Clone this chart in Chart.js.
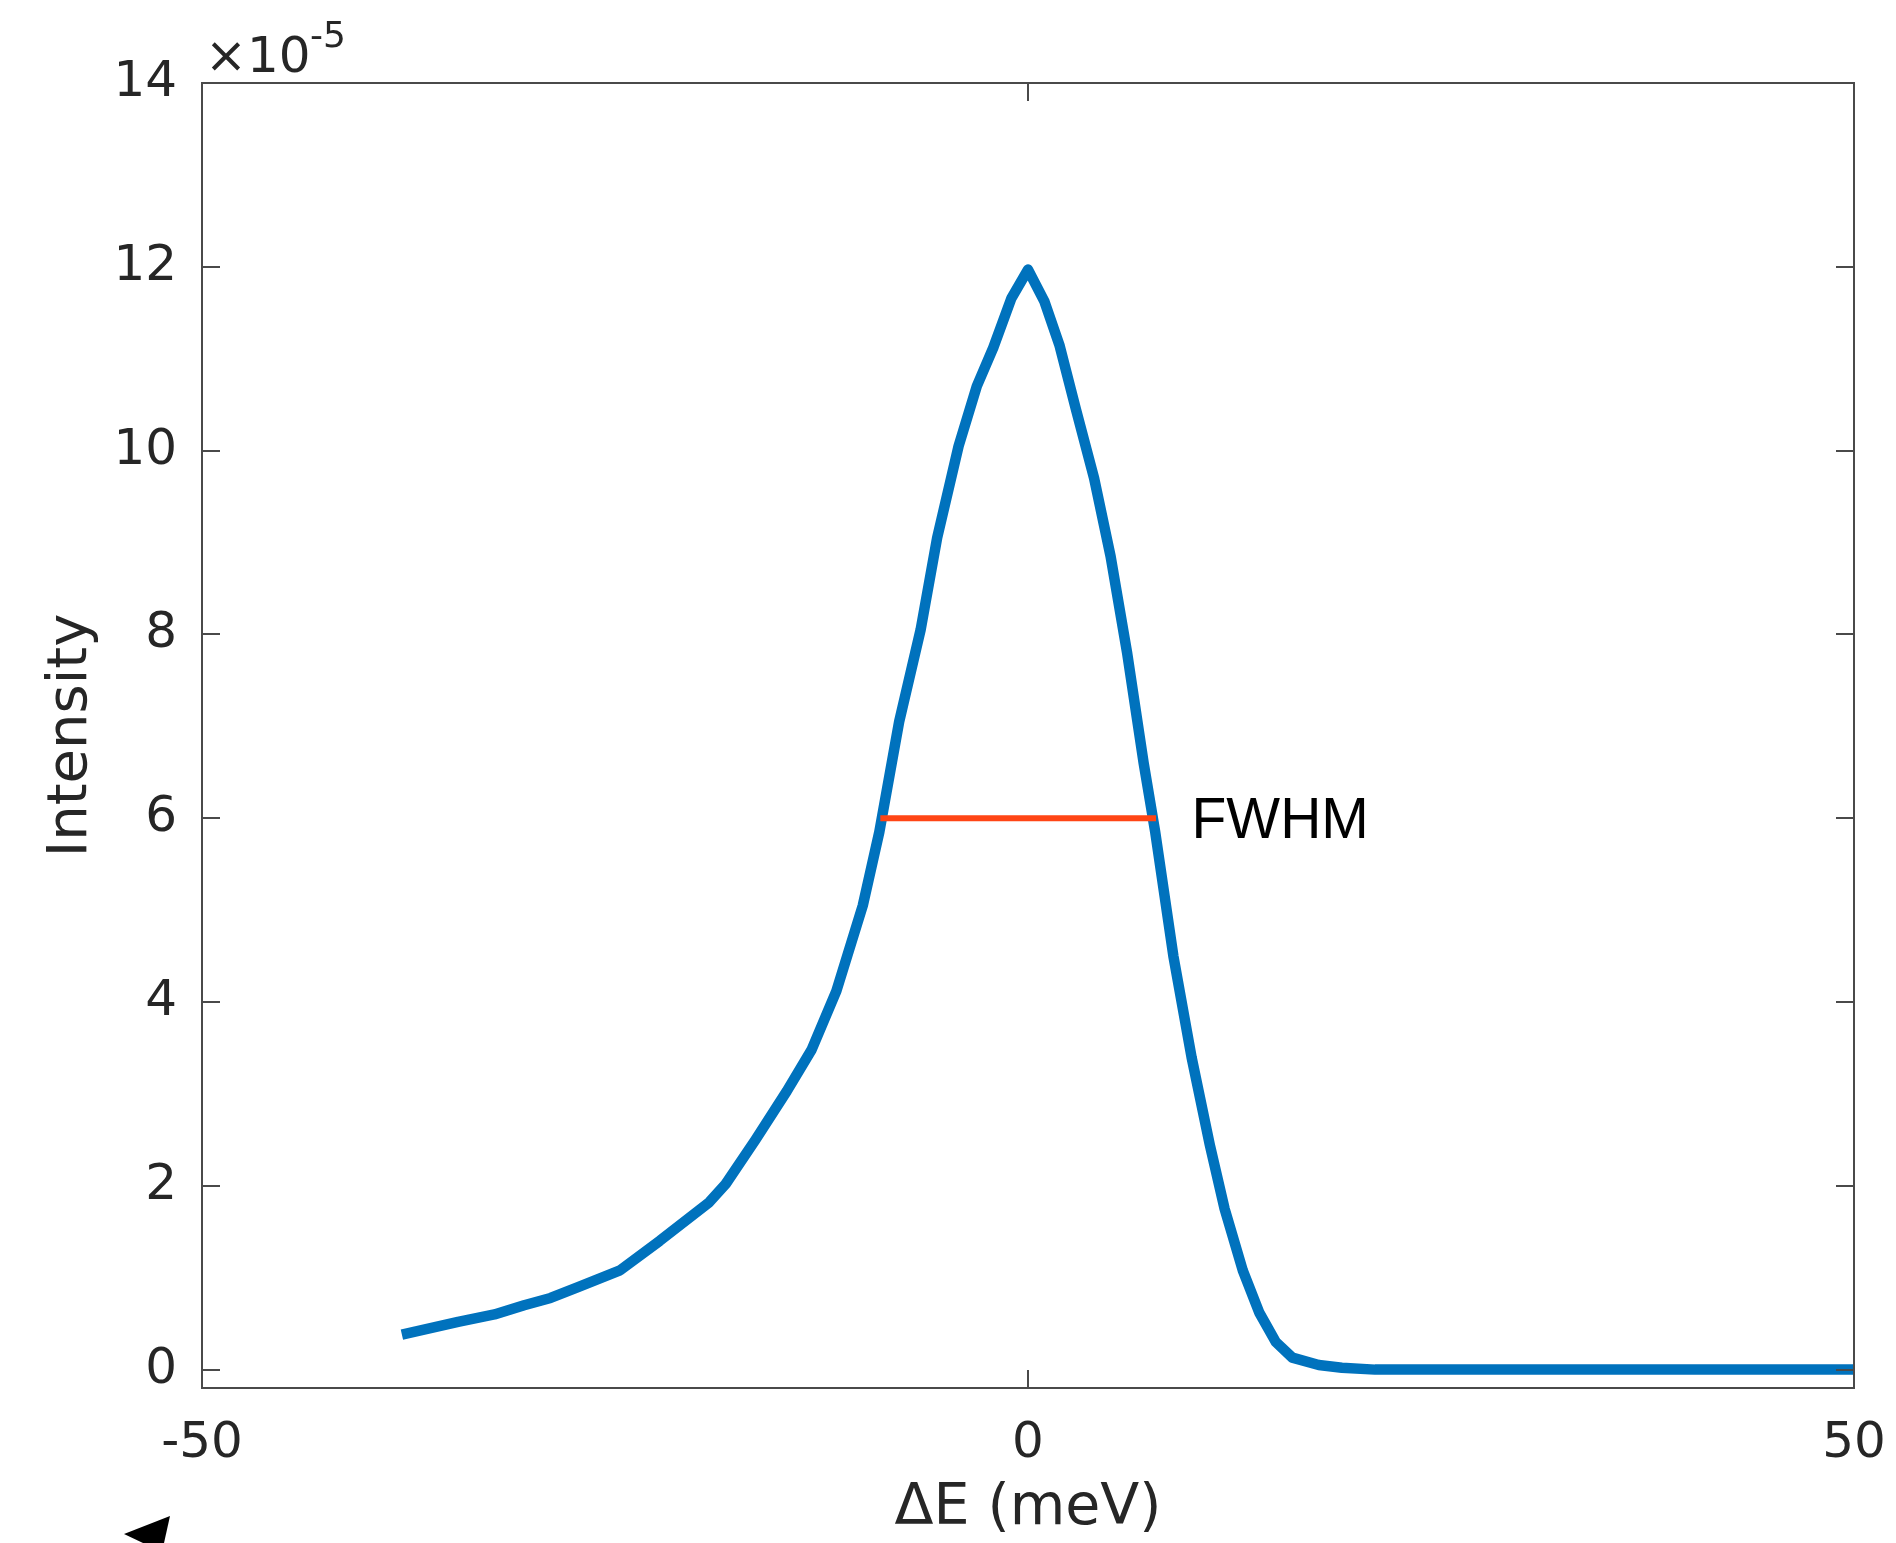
<!DOCTYPE html>
<html>
<head>
<meta charset="utf-8">
<style>
  html, body { margin: 0; padding: 0; background: #fff; overflow: hidden; }
  canvas { display: block; }
</style>
</head>
<body>
<canvas id="grafico" width="1896" height="1543"></canvas>

<script src="https://cdn.jsdelivr.net/npm/chart.js"></script>
<script>
  // valores (x em meV, y em unidades de 1e-5)
  const energia = [-37.9, -34.5, -32.3, -30.5, -28.9, -27.2, -24.7, -22.3, -19.3, -18.3, -16.5, -14.6, -13.1, -11.6,
    -10.0, -9.0, -7.8, -6.5, -5.5, -4.2, -3.1, -2.1, -1.0, 0, 1.0, 1.9, 2.9, 4.0, 5.0, 6.0, 7.0, 7.7, 8.8, 9.9,
    11.0, 11.9, 13.0, 14.0, 15.0, 16.0, 17.6, 19.0, 21.0, 50];
  const intensidade = [0.38, 0.52, 0.60, 0.70, 0.78, 0.90, 1.08, 1.40, 1.82, 2.02, 2.50, 3.03, 3.48, 4.12,
    5.05, 5.85, 7.05, 8.05, 9.05, 10.05, 10.70, 11.12, 11.66, 11.97, 11.62, 11.15, 10.45, 9.70, 8.85, 7.80, 6.60, 5.85, 4.50, 3.40,
    2.45, 1.75, 1.08, 0.62, 0.30, 0.13, 0.05, 0.02, 0.0, 0.0];

  const fwhmX = [-8.94, 7.75];
  const fwhmY = [6.0, 6.0];
  const rotuloFwhm = 'FWHM';
  const rotuloFwhmX = 9.9;

  const ticksX = [-50, 0, 50];
  const ticksY = [0, 2, 4, 6, 8, 10, 12, 14];
  const expoente = '-5';

  const corTexto = '#262626';
  const corEixo = '#4a4a4a';

  Chart.defaults.font.family = 'DejaVu Sans';
  Chart.defaults.color = corTexto;

  // moldura com marcas para dentro, estilo MATLAB
  const moldura = {
    id: 'moldura',
    afterDraw(chart) {
      const { ctx, chartArea: a, scales } = chart;
      const sx = scales.x, sy = scales.y;
      const tl = 18;
      ctx.save();
      ctx.strokeStyle = corEixo;
      ctx.lineWidth = 2;
      ctx.strokeRect(a.left, a.top, a.right - a.left, a.bottom - a.top);
      ctx.beginPath();
      ticksY.forEach(v => {
        const y = Math.round(sy.getPixelForValue(v));
        ctx.moveTo(a.left, y); ctx.lineTo(a.left + tl, y);
        ctx.moveTo(a.right, y); ctx.lineTo(a.right - tl, y);
      });
      ticksX.forEach(v => {
        const x = Math.round(sx.getPixelForValue(v));
        ctx.moveTo(x, a.bottom); ctx.lineTo(x, a.bottom - tl);
        ctx.moveTo(x, a.top); ctx.lineTo(x, a.top + tl);
      });
      ctx.stroke();

      // multiplicador do eixo y
      ctx.fillStyle = corTexto;
      ctx.textBaseline = 'alphabetic';
      ctx.textAlign = 'left';
      ctx.font = '50px "DejaVu Sans"';
      ctx.fillText('\u00d710', a.left + 3, a.top - 11);
      ctx.font = '36px "DejaVu Sans"';
      ctx.fillText(expoente, a.left + 108, a.top - 36);

      // texto FWHM
      ctx.fillStyle = '#000';
      ctx.font = '57px "Liberation Sans"';
      ctx.fillText(rotuloFwhm, sx.getPixelForValue(rotuloFwhmX), sy.getPixelForValue(fwhmY[0]) + 20);

      // seta preta no canto
      ctx.beginPath();
      ctx.moveTo(124, 1534);
      ctx.lineTo(170, 1516);
      ctx.lineTo(162, 1552);
      ctx.closePath();
      ctx.fill();
      ctx.restore();
    }
  };

  const semPadding = s => { s.paddingLeft = 0; s.paddingRight = 0; s.paddingTop = 0; s.paddingBottom = 0; };

  const ctx = document.getElementById('grafico').getContext('2d');
  new Chart(ctx, {
    type: 'scatter',
    data: {
      datasets: [{
        data: energia.map((e, k) => ({ x: e, y: intensidade[k] })),
        showLine: true,
        borderColor: '#0072BD',
        borderWidth: 10.5,
        borderJoinStyle: 'round',
        pointRadius: 0,
        tension: 0,
        order: 2
      }, {
        data: fwhmX.map((e, k) => ({ x: e, y: fwhmY[k] })),
        showLine: true,
        borderColor: '#ff4515',
        borderWidth: 6,
        pointRadius: 0,
        order: 1
      }]
    },
    options: {
      responsive: false,
      animation: false,
      devicePixelRatio: 1,
      layout: { padding: { top: 83, right: 42, left: 0, bottom: 0 } },
      plugins: { legend: { display: false }, tooltip: { enabled: false } },
      scales: {
        x: {
          type: 'linear', min: -50, max: 50,
          grid: { display: false, drawTicks: false },
          border: { display: false },
          afterBuildTicks: s => { s.ticks = ticksX.map(v => ({ value: v })); },
          afterFit: s => { s.height = 155; semPadding(s); },
          ticks: { font: { size: 50 }, color: corTexto, padding: 26, maxRotation: 0 },
          title: { display: true, text: '\u0394E (meV)', font: { size: 57 }, color: corTexto, padding: 0 }
        },
        y: {
          type: 'linear', min: -0.2, max: 14,
          grid: { display: false, drawTicks: false },
          border: { display: false },
          afterBuildTicks: s => { s.ticks = ticksY.map(v => ({ value: v })); },
          afterFit: s => { s.width = 202; semPadding(s); },
          ticks: { font: { size: 50 }, color: corTexto, padding: 25 },
          title: { display: true, text: 'Intensity', font: { size: 56 }, color: corTexto, padding: { top: 38 } }
        }
      }
    },
    plugins: [moldura]
  });
</script>
</body>
</html>
